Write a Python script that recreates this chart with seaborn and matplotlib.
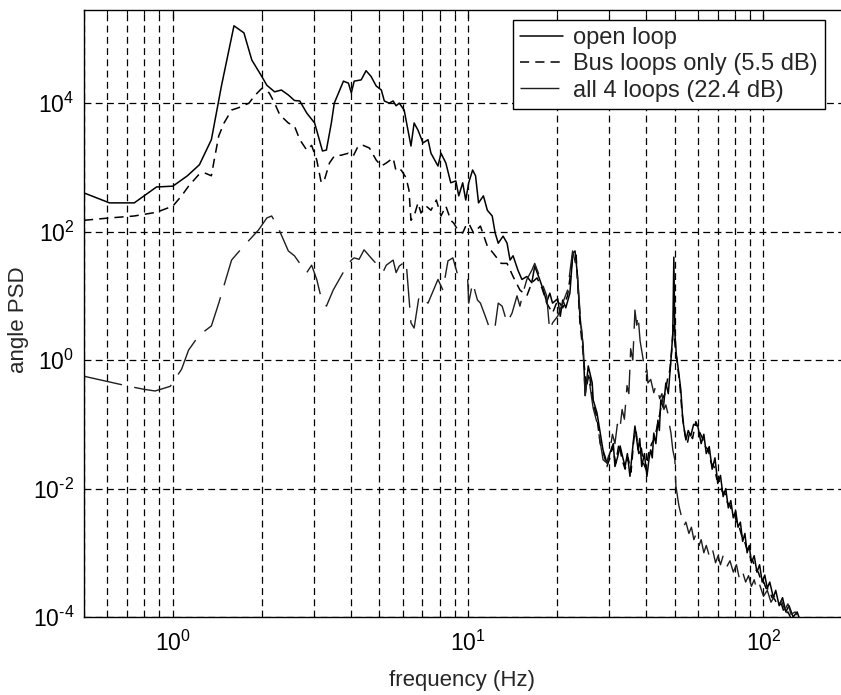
import numpy as np
import pandas as pd
import matplotlib
matplotlib.use("Agg")
import matplotlib.pyplot as plt
import matplotlib.ticker as mticker
import seaborn as sns

# ---------------- data ----------------
open_f = [0.5, 0.61, 0.74, 0.88, 1.0, 1.12, 1.23, 1.35, 1.46, 1.61, 1.74, 1.85, 2.0, 2.08,
          2.21, 2.33, 2.46, 2.58, 2.69, 2.84, 3.02, 3.21, 3.31, 3.44, 3.52, 3.78, 3.93, 4.02,
          4.11, 4.34, 4.51, 4.69, 4.88, 5.08, 5.2, 5.4, 5.57, 5.7, 5.84, 6.07, 6.4, 6.56,
          6.76, 7.03, 7.31, 7.48, 7.9, 8.09, 8.4, 8.73, 9.08, 9.29, 9.58, 9.81, 10.04, 10.35,
          10.59, 10.84, 11.26, 11.61, 12.06, 12.34, 12.64, 13.13, 13.54, 13.86, 14.19, 14.74,
          15.2, 15.8, 16.42, 16.8, 17.46, 18.0, 18.44, 18.9, 19.3, 20.1, 20.5, 20.9, 21.4,
          22.1, 22.6, 23.0, 23.4, 23.9, 24.5, 24.9, 25.5, 26.3, 26.5, 27.3, 28.0, 28.6, 29.5,
          30.2, 31.0, 31.4, 32.0, 32.7, 33.4, 34.0, 34.6, 35.3, 36.0, 36.7, 37.6, 38.1, 38.7,
          39.5, 40.3, 41.0, 41.5, 42.0, 42.5, 43.2, 43.9, 44.4, 44.9, 45.8, 46.7, 47.6, 48.6,
          49.3, 49.7, 50.1, 50.7, 51.3, 52.5, 53.3, 54.6, 55.6, 56.7, 58.0, 59.9, 61.5, 62.8,
          64.0, 65.5, 67.0, 68.5, 70.0, 71.5, 73.0, 74.5, 76.0, 77.5, 79.0, 80.5, 82.0, 83.5,
          85.0, 86.5, 88.0, 89.5, 91.0, 93.0, 95.0, 97.0, 99.0, 101.0, 103.0, 105.0, 108.0,
          110.0, 113.0, 116.0, 119.0, 122.0, 126.0, 130.0, 134.0]
open_psd = [400, 280, 280, 495, 510, 740, 1100, 2700, 1.85e4, 1.6e5, 1.24e5, 4.7e4, 2.6e4, 1.9e4,
            1.5e4, 1.6e4, 1.34e4, 1.1e4, 1.08e4, 7.0e3, 4.9e3, 1.8e3, 1.86e3, 4.9e3, 1.0e4, 2.2e4,
            2.05e4, 1.44e4, 2.2e4, 2.3e4, 3.2e4, 2.6e4, 1.85e4, 1.6e4, 1.08e4, 1.0e4, 1.08e4,
            9.1e3, 1.0e4, 7.8e3, 2.15e3, 4.9e3, 3.8e3, 2.4e3, 2.7e3, 1.66e3, 1.05e3, 1.66e3,
            1.17e3, 575, 615, 360, 575, 310, 575, 910, 740, 280, 360, 215, 175, 95, 66, 85, 66,
            36, 42, 25, 18, 20, 16, 29, 18, 12, 8, 11, 7.7, 9, 4.8, 8.6, 6.5, 11, 46, 50, 23,
            4.8, 1.65, 0.28, 0.81, 0.44, 0.24, 0.15, 0.073, 0.04, 0.025,
            0.036, 0.05, 0.022, 0.03, 0.046, 0.03, 0.022, 0.035, 0.0155, 0.04, 0.094, 0.04,
            0.06, 0.022, 0.035, 0.0155, 0.03, 0.04, 0.03, 0.073, 0.05, 0.116, 0.08, 0.24, 0.18,
            0.44, 0.3, 1.0, 2.6, 40, 2.6, 1.2, 0.81, 0.34, 0.116, 0.057, 0.08, 0.066, 0.1,
            0.094, 0.05, 0.07, 0.035, 0.045, 0.02, 0.03, 0.012, 0.016, 0.0075, 0.01, 0.005,
            0.0065, 0.0035, 0.0045, 0.0025, 0.003, 0.0015, 0.002, 0.001, 0.0013, 0.0007,
            0.0009, 0.0005, 0.00065, 0.00035, 0.00045, 0.00028, 0.00035, 0.0002, 0.00026,
            0.00015, 0.0002, 0.00012, 0.00015, 0.0001, 0.00012, 0.00008]

bus_f = [0.5, 0.61, 0.74, 0.88, 1.0, 1.07, 1.13, 1.22, 1.28, 1.35, 1.38, 1.43, 1.49, 1.58, 1.67,
         1.81, 1.89, 2.0, 2.12, 2.21, 2.3, 2.46, 2.58, 2.69, 2.84, 2.95, 3.07, 3.18, 3.26,
         3.39, 3.52, 3.72, 3.93, 4.08, 4.24, 4.41, 4.63, 4.88, 5.08, 5.28, 5.57, 5.7, 5.93,
         6.16, 6.3, 6.4, 6.56, 6.76, 6.92, 7.2, 7.48, 7.8, 8.09, 8.4, 8.73, 8.94, 9.22, 9.58,
         9.81, 10.04, 10.43, 11.0, 11.6, 12.16, 12.93, 13.54, 14.19, 14.97, 15.8, 16.42, 17.1,
         17.8, 18.44, 19.3, 20.1, 20.9, 21.7, 22.6, 23.2, 23.9, 24.5, 25.1, 25.7, 26.5, 27.3,
         28.0, 28.9, 29.5, 30.2, 30.8, 31.6, 32.4, 33.2, 34.0, 34.8, 35.6, 36.4, 37.0, 37.8,
         38.5, 39.2, 40.0, 40.8, 41.8, 42.8, 43.6, 44.6, 45.5, 46.4, 47.3, 48.2, 49.0, 49.5,
         50.3, 51.0, 52.0, 53.0, 54.2, 55.2, 56.2, 57.5, 59.0, 60.8, 62.2, 63.5, 65.0, 66.5,
         68.0, 69.5, 71.0, 72.5, 74.0, 75.5, 77.0, 78.5, 80.0, 81.5, 83.0, 84.5, 86.0, 87.5,
         89.0, 90.5, 92.0, 94.0, 96.0, 98.0, 100.0, 102.0, 104.0, 107.0, 109.0, 112.0, 115.0,
         118.0, 121.0, 124.0, 128.0, 132.0]
bus_psd = [150, 163, 175, 200, 250, 360, 510, 760, 820, 740, 1300, 3100, 4900, 7800, 8500,
           1.0e4, 1.3e4, 1.7e4, 1.44e4, 1.0e4, 6.6e3, 4.9e3, 4.4e3, 2.7e3, 1.86e3, 2.2e3, 1.3e3,
           575, 640, 1.17e3, 1.5e3, 1.55e3, 1.66e3, 1.5e3, 2.15e3, 2.2e3, 2.0e3, 1.3e3, 1.05e3,
           1.17e3, 1.4e3, 870, 910, 690, 445, 150, 175, 280, 195, 250, 215, 310, 175, 250, 150,
           135, 106, 95, 122, 135, 95, 122, 60, 46, 32, 32, 20, 12.3, 10, 16, 19, 13, 7.7, 5.4,
           8.6, 6.5, 10, 39, 43, 3.8, 1.3, 0.37, 0.63, 0.21, 0.125, 0.05, 0.032, 0.022,
           0.03, 0.045, 0.025, 0.05, 0.028, 0.02, 0.03, 0.018, 0.06, 0.08, 0.035, 0.045, 0.025,
           0.02, 0.035, 0.05, 0.06, 0.09, 0.15, 0.25, 0.3, 0.5, 0.7, 1.6, 3.5, 1.5, 0.9, 0.45,
           0.15, 0.07, 0.05, 0.075, 0.06, 0.11, 0.075, 0.06, 0.045, 0.04, 0.025, 0.022, 0.014,
           0.013, 0.009, 0.0085, 0.006, 0.0055, 0.004, 0.0038, 0.0027, 0.0024, 0.0018, 0.0016,
           0.0012, 0.0011, 0.0008, 0.00075, 0.00055, 0.0005, 0.00038, 0.00036, 0.00028,
           0.00027, 0.0002, 0.00019, 0.00015, 0.00016, 0.00011, 0.00012, 0.000095, 0.0001,
           0.00008]

all4_f = [0.5, 0.71, 0.80, 0.87, 0.98, 1.07, 1.13, 1.19, 1.25, 1.35, 1.43, 1.58, 1.71, 1.95,
          2.08, 2.16, 2.26, 2.46, 2.58, 2.69, 2.84, 2.95, 3.07, 3.18, 3.31, 3.49, 3.66, 3.81,
          4.02, 4.11, 4.27, 4.44, 4.76, 5.16, 5.28, 5.57, 5.70, 5.84, 6.16, 6.40, 6.56, 6.82,
          7.31, 7.90, 8.21, 8.54, 8.87, 9.22, 9.66, 9.96, 10.04, 10.35, 10.75, 11.0, 11.43,
          11.88, 12.34, 12.64, 13.03, 13.54, 14.08, 14.63, 14.97, 15.32, 15.80, 16.42, 16.80,
          17.46, 18.44, 18.87, 19.31, 20.08, 20.88, 21.71, 22.57, 23.37, 23.93, 24.49, 24.88,
          25.47, 26.49, 27.33, 28.63, 29.5, 30.2, 30.8, 31.4, 32.0, 32.6, 33.2, 33.8, 34.5,
          35.0, 35.5, 36.1, 36.7, 37.2, 37.6, 38.2, 38.7, 39.3, 39.7, 40.3, 40.6, 41.5, 42.5,
          43.2, 43.9, 44.5, 45.3, 46.0, 46.7, 47.4, 48.0, 48.6, 49.3, 50.1, 50.5, 51.7, 52.5,
          53.7, 54.6, 55.9, 57.0, 58.1, 59.2, 60.5, 61.5, 62.8, 64.0, 65.5, 67.0, 68.8, 70.2,
          71.5, 73.0, 75.0, 77.0, 79.0, 81.0, 83.0, 85.0, 87.0, 89.0, 91.0, 93.0, 95.0, 97.0,
          100.0, 103.0, 106.0, 109.0, 112.0, 115.0, 118.0, 121.0, 124.0, 128.0, 132.0]
all4_psd = [0.56, 0.39, 0.35, 0.33, 0.39, 0.72, 1.43, 2.0, 2.6, 3.4, 7.7, 36, 55, 106, 163, 175,
            122, 50, 42, 32, 23, 30, 18, 9.2, 6.9, 12.3, 18, 25, 36, 39, 37, 52, 36, 24, 30, 36,
            23, 29, 35, 3.8, 3.15, 10, 7.7, 18, 12.3, 35, 39, 21, 19, 18, 7.7, 16, 8.6, 7.7,
            4.8, 2.9, 3.4, 7.7, 6.9, 3.8, 5.4, 10, 6.9, 11, 18, 25, 32, 20, 10, 2.9, 3.8, 4.8,
            7.7, 12.3, 50, 25, 5.4, 1.65, 0.28, 0.63, 0.18, 0.104, 0.028, 0.025,
            0.04, 0.07, 0.05, 0.1, 0.08, 0.17, 0.12, 0.4, 0.3, 1.5, 1.0, 6, 3.5, 5, 2.0, 1.4,
            0.9, 0.63, 0.7, 0.44, 0.5, 0.31, 0.4, 0.34, 0.25, 0.3, 0.17, 0.2, 0.15, 0.1, 0.073,
            0.04, 0.028, 0.011, 0.0054, 0.004, 0.0026, 0.003, 0.002, 0.0025, 0.0016, 0.002,
            0.0013, 0.0016, 0.001, 0.0013, 0.0009, 0.0012, 0.0007, 0.0009, 0.00065, 0.0009,
            0.0006, 0.00075, 0.0005, 0.00065, 0.00038, 0.0005, 0.00035, 0.00044, 0.0003,
            0.00038, 0.00026, 0.00032, 0.00021, 0.00026, 0.00017, 0.00021, 0.00015, 0.00018,
            0.00013, 0.00016, 0.00011, 0.00012, 0.00009]

series_labels = ["open loop", "Bus loops only (5.5 dB)", "all 4 loops (22.4 dB)"]
y_major = [1e-4, 1e-2, 1e0, 1e2, 1e4]
y_minor = [1e-3, 1e-1, 1e1, 1e3, 1e5]
y_tick_exps = ["-4", "-2", "0", "2", "4"]
x_major = [1e0, 1e1, 1e2]
x_tick_exps = ["0", "1", "2"]

# ---------------- style ----------------
sns.set_style("white")
plt.rcParams["font.family"] = ["Liberation Sans", "DejaVu Sans"]
plt.rcParams["mathtext.fontset"] = "custom"
plt.rcParams["mathtext.rm"] = "Liberation Sans"
plt.rcParams["mathtext.it"] = "Liberation Sans:italic"
plt.rcParams["mathtext.bf"] = "Liberation Sans:bold"
plt.rcParams["axes.unicode_minus"] = False


def tick_label(exp):
    # MATLAB-style short hyphen in the exponent
    return "$10^{" + exp.replace("-", "\u2010") + "}$"


fig = plt.figure(figsize=(8.41, 6.95), dpi=100)
ax = fig.add_axes([84 / 841, 1 - 617 / 695, 757 / 841, 607 / 695])

sns.lineplot(x=open_f, y=open_psd, ax=ax, color="black", linewidth=1.1,
             label=series_labels[0], sort=False, estimator=None)
sns.lineplot(x=bus_f, y=bus_psd, ax=ax, color="black", linewidth=1.1,
             linestyle=(0, (6, 4)), label=series_labels[1], sort=False, estimator=None)
sns.lineplot(x=all4_f, y=all4_psd, ax=ax, color="#1e1e1e", linewidth=1.0,
             linestyle=(0, (28, 9)), label=series_labels[2], sort=False, estimator=None)

ax.set_xscale("log")
ax.set_yscale("log")
ax.set_xlim(0.5, 183)
ax.set_ylim(1e-4, 10 ** 5.45)

ax.yaxis.set_major_locator(mticker.FixedLocator(y_major))
ax.yaxis.set_major_formatter(mticker.FixedFormatter([tick_label(e) for e in y_tick_exps]))
ax.yaxis.set_minor_locator(mticker.FixedLocator(y_minor))
ax.yaxis.set_minor_formatter(mticker.NullFormatter())
ax.xaxis.set_major_locator(mticker.FixedLocator(x_major))
ax.xaxis.set_major_formatter(mticker.FixedFormatter([tick_label(e) for e in x_tick_exps]))
ax.xaxis.set_minor_locator(mticker.LogLocator(base=10, subs=np.arange(2, 10)))
ax.xaxis.set_minor_formatter(mticker.NullFormatter())

grid_kw = dict(color="black", linestyle=(0, (5.5, 3.5)), linewidth=0.9)
ax.grid(True, which="both", axis="x", **grid_kw)
ax.grid(True, which="major", axis="y", **grid_kw)
ax.set_axisbelow(True)

ax.tick_params(axis="both", which="both", direction="in", top=True, right=False,
               labelsize=16.5, colors="black")
ax.tick_params(which="major", length=6, width=0.9, pad=7)
ax.tick_params(axis="x", which="major", pad=10)
ax.tick_params(which="minor", length=3, width=0.8)

for side in ["left", "bottom", "top"]:
    ax.spines[side].set_color("black")
    ax.spines[side].set_linewidth(1.0)
ax.spines["right"].set_visible(False)

ax.set_xlabel("frequency (Hz)", fontsize=16)
ax.set_ylabel("angle PSD", fontsize=16)
ax.xaxis.set_label_coords((462 - 84) / 757, (617 - 670) / 607)
ax.yaxis.set_label_coords((29 - 84) / 757, 0.49)

leg = ax.legend(loc="upper right", bbox_to_anchor=(0.979, 0.9835), borderaxespad=0,
                fancybox=False, edgecolor="black", framealpha=1, fontsize=17,
                handlelength=1.8, handletextpad=0.45, labelspacing=0.18, borderpad=0.3)
leg.get_frame().set_linewidth(1.0)

fig.savefig("out.png", dpi=100)
